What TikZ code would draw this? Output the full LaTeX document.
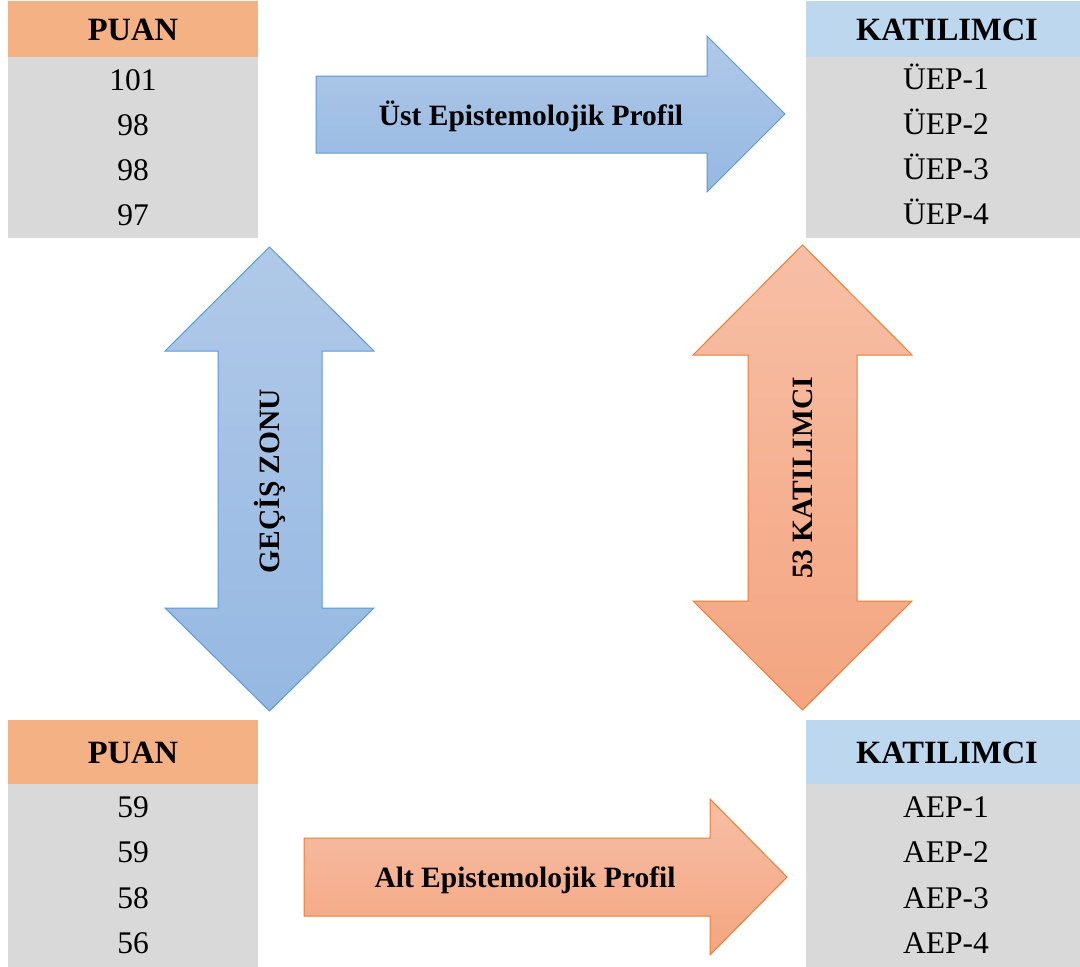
\documentclass[tikz,border=0pt]{standalone}
\usepackage{fontspec}
\setmainfont{Liberation Serif}
\definecolor{hdrorange}{HTML}{F4B183}
\definecolor{hdrblue}{HTML}{BDD7EE}
\definecolor{cellgray}{HTML}{D9D9D9}
\definecolor{bluetop}{HTML}{B0C9E8}
\definecolor{bluebot}{HTML}{95B8E2}
\definecolor{blueline}{HTML}{5B9BD5}
\definecolor{orangetop}{HTML}{F7BFA6}
\definecolor{orangebot}{HTML}{F4A580}
\definecolor{orangeline}{HTML}{ED7D31}
\tikzset{
  hdrtext/.style={font=\fontsize{32.5}{38}\selectfont\bfseries, text height=21.5pt, text depth=0pt, inner sep=0pt},
  rowtext/.style={font=\fontsize{31.5}{37}\selectfont, text height=20.8pt, text depth=0pt, inner sep=0pt},
  arrowtext/.style={font=\fontsize{29.5}{35}\selectfont\bfseries, text height=19.5pt, text depth=0pt, inner sep=0pt},
  bluearrow/.style={top color=bluetop, bottom color=bluebot, draw=blueline, line width=1pt, line join=miter},
  orangearrow/.style={top color=orangetop, bottom color=orangebot, draw=orangeline, line width=1pt, line join=miter},
}
\begin{document}
\begin{tikzpicture}[x=1pt,y=-1pt]
\useasboundingbox (0,0) rectangle (1080,967);
% ---------- tables: backgrounds ----------
\fill[hdrorange] (8,1) rectangle (258,57);
\fill[cellgray] (8,57) rectangle (258,238);
\fill[hdrblue] (806,1) rectangle (1080,57);
\fill[cellgray] (806,57) rectangle (1080,238);
\fill[hdrorange] (8,720) rectangle (258,784);
\fill[cellgray] (8,784) rectangle (258,967);
\fill[hdrblue] (806,720) rectangle (1080,784);
\fill[cellgray] (806,784) rectangle (1080,967);
% ---------- top-left table ----------
\node[hdrtext] (tlh) at (133,29.5) {PUAN};
\node[rowtext] (tl1) at (133,80) {101};
\node[rowtext] (tl2) at (133,125) {98};
\node[rowtext] (tl3) at (133,170) {98};
\node[rowtext] (tl4) at (133,215) {97};
% ---------- top-right table ----------
\node[hdrtext] (trh) at (947,30) {KATILIMCI};
\node[rowtext] (tr1) at (946,79) {ÜEP-1};
\node[rowtext] (tr2) at (946,124) {ÜEP-2};
\node[rowtext] (tr3) at (946,169) {ÜEP-3};
\node[rowtext] (tr4) at (946,214) {ÜEP-4};
% ---------- bottom-left table ----------
\node[hdrtext] (blh) at (133,752.5) {PUAN};
\node[rowtext] (bl1) at (133,807.5) {59};
\node[rowtext] (bl2) at (133,852.5) {59};
\node[rowtext] (bl3) at (133,898) {58};
\node[rowtext] (bl4) at (133,943.5) {56};
% ---------- bottom-right table ----------
\node[hdrtext] (brh) at (947,752.5) {KATILIMCI};
\node[rowtext] (br1) at (946,807.5) {AEP-1};
\node[rowtext] (br2) at (946,852.5) {AEP-2};
\node[rowtext] (br3) at (946,898) {AEP-3};
\node[rowtext] (br4) at (946,943.5) {AEP-4};
% ---------- arrows ----------
\shade[bluearrow] (316,76) -- (707,76) -- (707,36) -- (785,114) -- (707,192) -- (707,153) -- (316,153) -- cycle;
\node[arrowtext] (ust) at (531,116) {Üst Epistemolojik Profil};
\shade[orangearrow] (304,838) -- (710,838) -- (710,799) -- (787,877) -- (710,955) -- (710,916) -- (304,916) -- cycle;
\node[arrowtext] (alt) at (525,878) {Alt Epistemolojik Profil};
\shade[bluearrow] (269.5,247) -- (374,351) -- (322,351) -- (322,608) -- (374,608) -- (269.5,711) -- (165,608) -- (218,608) -- (218,351) -- (165,351) -- cycle;
\node[arrowtext, rotate=90] (gecis) at (270,481) {GEÇİŞ ZONU};
\shade[orangearrow] (802.5,245) -- (912,355) -- (857,355) -- (857,601) -- (912,601) -- (802.5,710) -- (693,601) -- (748,601) -- (748,355) -- (693,355) -- cycle;
\node[arrowtext, rotate=90] (kat53) at (802.5,478) {53 KATILIMCI};
\end{tikzpicture}
\end{document}
